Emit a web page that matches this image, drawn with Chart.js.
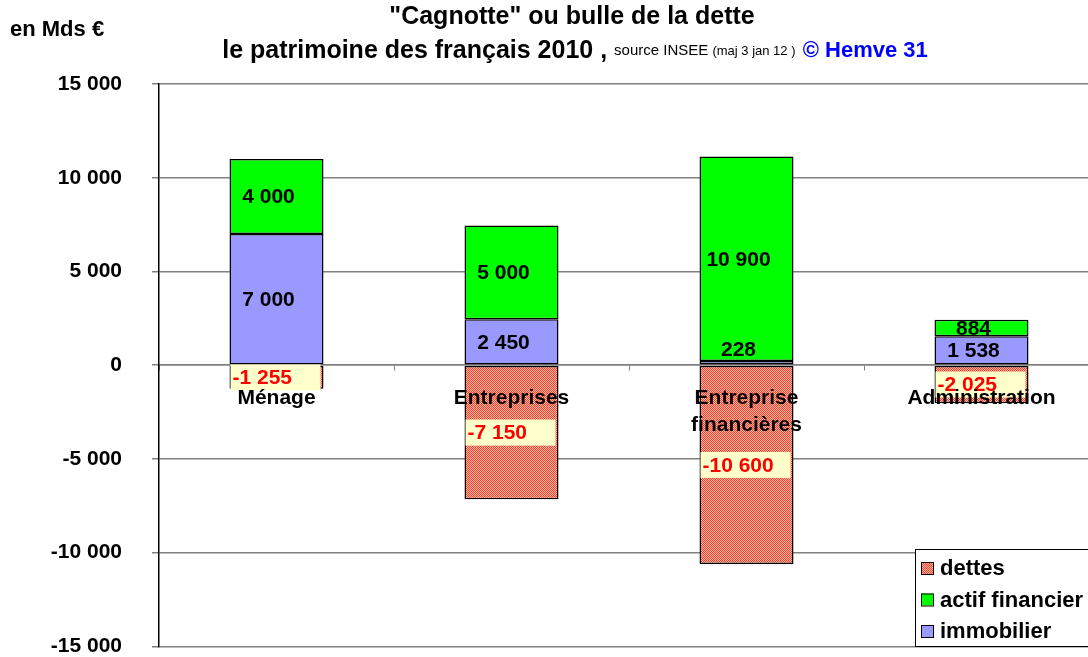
<!DOCTYPE html>
<html>
<head>
<meta charset="utf-8">
<script src="https://cdn.jsdelivr.net/npm/chart.js@4/dist/chart.umd.min.js"></script>
<style>
  html, body { margin: 0; padding: 0; background: #fff; overflow: hidden; }
  #wrap { width: 1100px; height: 689px; }
</style>
</head>
<body>
<div id="wrap"><canvas id="myChart"></canvas></div>
<script>
// data (Mds €)
const categories = ['Ménage', 'Entreprises', ['Entreprise', 'financières'], 'Administration'];
const immobilier = [7000, 2450, 228, 1538];
const actifFinancier = [4000, 5000, 10900, 884];
const dettes = [-1255, -7150, -10600, -2025];
const yTicks = [15000, 10000, 5000, 0, -5000, -10000, -15000];

const FONT = '"Liberation Sans", Arial, sans-serif';

function fmt(v) {
    const s = Math.abs(Math.round(v)).toString().replace(/\B(?=(\d{3})+(?!\d))/g, ' ');
    return (v < 0 ? '-' : '') + s;
}

// red checker pattern like the excel "dettes" fill
function makePattern(ctx) {
    const c = document.createElement('canvas');
    c.width = 2; c.height = 2;
    const p = c.getContext('2d');
    p.fillStyle = '#ffb8a0'; p.fillRect(0, 0, 2, 2);
    p.fillStyle = '#ff4030'; p.fillRect(0, 0, 1, 1); p.fillRect(1, 1, 1, 1);
    return ctx.createPattern(c, 'repeat');
}

const titlePlugin = {
    id: 'titles',
    afterDraw(chart) {
        const ctx = chart.ctx;
        ctx.save();
        ctx.textBaseline = 'middle';
        ctx.fillStyle = '#000';
        ctx.font = 'bold 25px ' + FONT;
        ctx.textAlign = 'center';
        ctx.fillText('"Cagnotte" ou bulle de la dette', 572, 17);

        ctx.textAlign = 'left';
        ctx.font = 'bold 22px ' + FONT;
        ctx.fillText('en Mds €', 10, 30);

        // second title line, mixed fonts
        const parts = [
            ['le patrimoine des français 2010 , ', 'bold 25px ' + FONT, '#000'],
            ['source INSEE ', '15px ' + FONT, '#000'],
            ['(maj 3 jan 12 )  ', '13px ' + FONT, '#000'],
            ['© Hemve 31', 'bold 22px ' + FONT, '#0000ff']
        ];
        let total = 0;
        parts.forEach(p => { ctx.font = p[1]; total += ctx.measureText(p[0]).width; });
        let x = 575 - total / 2;
        parts.forEach(p => {
            ctx.font = p[1];
            ctx.fillStyle = p[2];
            ctx.fillText(p[0], x, 51);
            x += ctx.measureText(p[0]).width;
        });
        ctx.restore();
    }
};

const labelPlugin = {
    id: 'barLabels',
    afterDatasetsDraw(chart) {
        const ctx = chart.ctx;
        ctx.save();
        ctx.font = 'bold 21px ' + FONT;
        ctx.textBaseline = 'middle';
        chart.data.datasets.forEach((ds, i) => {
            const meta = chart.getDatasetMeta(i);
            meta.data.forEach((bar, j) => {
                const v = ds.data[j];
                const txt = fmt(v);
                const h = Math.abs(bar.base - bar.y);
                let cy = (bar.y + bar.base) / 2;
                if (h < 10) cy = bar.y - 12;
                const w = ctx.measureText(txt).width;
                if (v < 0) {
                    const bw = Math.max(w + 14, bar.width - 4);
                    const bx = bar.x - bar.width / 2 + 1;
                    const left = bw > bar.width ? bar.x - bw / 2 : bx;
                    ctx.fillStyle = '#ffffcc';
                    ctx.fillRect(left, cy - 13, bw, 26);
                    ctx.fillStyle = '#ff0000';
                    ctx.textAlign = 'left';
                    ctx.fillText(txt, left + 2, cy + 1);
                } else {
                    ctx.fillStyle = '#000';
                    ctx.textAlign = 'center';
                    ctx.fillText(txt, bar.x - 8, cy + 1);
                }
            });
        });
        ctx.restore();
    }
};

const legendPlugin = {
    id: 'boxLegend',
    afterDraw(chart) {
        const ctx = chart.ctx;
        const order = [2, 1, 0];
        ctx.save();
        ctx.fillStyle = '#fff';
        ctx.fillRect(915, 549, 190, 97);
        ctx.strokeStyle = '#000';
        ctx.lineWidth = 1;
        ctx.strokeRect(915.5, 549.5, 190, 97);
        ctx.font = 'bold 22px ' + FONT;
        ctx.textBaseline = 'middle';
        ctx.textAlign = 'left';
        order.forEach((di, k) => {
            const ds = chart.data.datasets[di];
            const y = 568 + k * 31.5;
            ctx.fillStyle = ds.backgroundColor;
            ctx.fillRect(921, y - 6, 12, 12);
            ctx.strokeRect(921.5, y - 5.5, 12, 12);
            ctx.fillStyle = '#000';
            ctx.fillText(ds.label, 940, y + 1);
        });
        ctx.restore();
    }
};

const ctx = document.getElementById('myChart').getContext('2d');
const myChart = new Chart(ctx, {
    type: 'bar',
    data: {
        labels: categories,
        datasets: [
            { label: 'immobilier', data: immobilier, backgroundColor: '#9999ff', borderColor: '#000', borderWidth: 1.5, borderSkipped: false },
            { label: 'actif financier', data: actifFinancier, backgroundColor: '#00ff00', borderColor: '#000', borderWidth: 1.5, borderSkipped: false },
            { label: 'dettes', data: dettes, backgroundColor: makePattern(ctx), borderColor: '#000', borderWidth: 1.5, borderSkipped: false }
        ]
    },
    options: {
        responsive: true,
        maintainAspectRatio: false,
        animation: false,
        datasets: { bar: { barPercentage: 0.4, categoryPercentage: 1 } },
        layout: { padding: { top: 84, right: 1, bottom: 0, left: 0 } },
        plugins: { legend: { display: false }, title: { display: false }, tooltip: { enabled: false } },
        scales: {
            x: {
                stacked: true,
                position: { y: 0 },
                afterFit: (scale) => { scale.height = 0; },
                grid: { display: true, drawOnChartArea: false, offset: true, tickLength: 5, color: '#808080' },
                border: { display: true, color: '#808080', width: 1.5 },
                ticks: { z: 1, color: '#000', font: { family: FONT, size: 21, weight: 'bold', lineHeight: 1.3 }, padding: 14, maxRotation: 0, autoSkip: false }
            },
            y: {
                stacked: true,
                min: -15000,
                max: 15000,
                afterBuildTicks: (scale) => { scale.ticks = yTicks.map(v => ({ value: v })); },
                afterFit: (scale) => { scale.width = 159; },
                grid: { color: '#808080', lineWidth: 1.5, tickLength: 7 },
                border: { color: '#000', width: 1.5 },
                ticks: { color: '#000', font: { family: FONT, size: 21, weight: 'bold' }, padding: 30, callback: (v) => fmt(v) }
            }
        }
    },
    plugins: [titlePlugin, labelPlugin, legendPlugin]
});
</script>
</body>
</html>
